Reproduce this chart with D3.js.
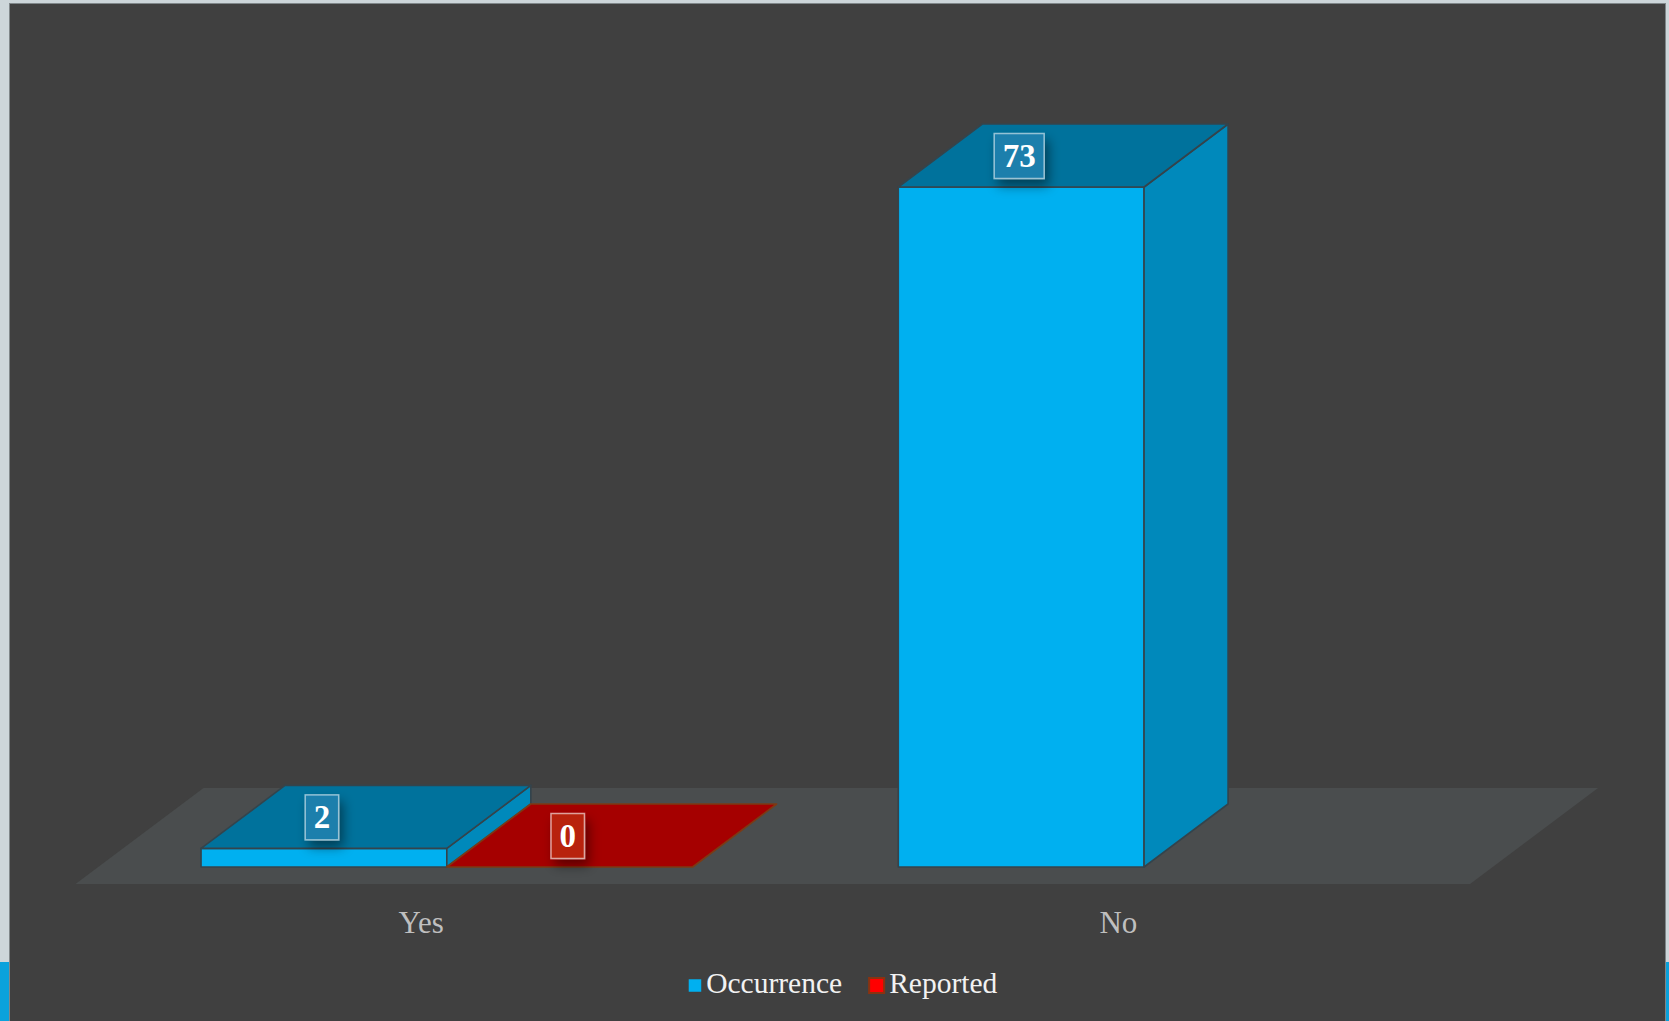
<!DOCTYPE html>
<html>
<head>
<meta charset="utf-8">
<script src="https://cdn.jsdelivr.net/npm/d3@7"></script>
<style>
  html, body { margin: 0; padding: 0; background: #cdd6da; }
  svg { display: block; }
</style>
</head>
<body>
<svg id="chart" width="1669" height="1021"></svg>
<script>
// ---- data ----
const categories = ["Yes", "No"];
const seriesNames = ["Occurrence", "Reported"];
const occurrence = [2, 73];
const reported = [0, null];

// ---- styling per series ----
const seriesStyle = {
  Occurrence: { front: "#00b0f0", top: "#00729c", side: "#0089bb", stroke: "#34444c",
                legend: "#00b0f0", legendStroke: "#00b0f0",
                labelFill: "#1e7fac", labelStroke: "rgba(255,255,255,0.55)" },
  Reported:   { front: "#ff0000", top: "#a50000", side: "#c00000", stroke: "#7d3a14",
                legend: "#ff0000", legendStroke: "#8a3210",
                labelFill: "#b8240f", labelStroke: "rgba(255,255,255,0.6)" }
};

const valuesBySeries = { Occurrence: occurrence, Reported: reported };

const W = 1669, H = 1021;
const svg = d3.select("#chart");

// page background + chart panel
svg.append("rect").attr("x", 0).attr("y", 0).attr("width", W).attr("height", H).attr("fill", "#cdd6da");
svg.append("rect").attr("x", 0).attr("y", 962).attr("width", 9).attr("height", H - 962).attr("fill", "#0aa2dc");
svg.append("rect").attr("x", 1666).attr("y", 962).attr("width", 3).attr("height", H - 962).attr("fill", "#0aa2dc");
svg.append("rect")
  .attr("x", 9.5).attr("y", 3.5).attr("width", 1656).attr("height", H + 10)
  .attr("fill", "#404040").attr("stroke", "#80878a").attr("stroke-width", 1);

// drop shadow for the value labels
const defs = svg.append("defs");
const f = defs.append("filter").attr("id", "lblShadow")
  .attr("x", "-80%").attr("y", "-80%").attr("width", "260%").attr("height", "260%");
f.append("feDropShadow").attr("dx", 4).attr("dy", 7).attr("stdDeviation", 6)
  .attr("flood-color", "#000").attr("flood-opacity", 0.45);

// ---- scales ----
const x0 = d3.scaleBand().domain(categories).range([98.2, 1492.7])
  .paddingInner(0.295).paddingOuter(0.1475);
const x1 = d3.scaleBand().domain(seriesNames).range([0, x0.bandwidth()]);
const y = d3.scaleLinear().domain([0, 80]).range([867, 121.8]);

// oblique depth projection: one unit of depth = one bar depth
const DX = 84, DY = 63;
const proj = (px, v, z) => [px + z * DX, y(v) - z * DY];
const poly = pts => pts.map(p => p.join(",")).join(" ");

const g = svg.append("g");

// floor
const zFront = -17 / DY, zBack = (867 - 788) / DY;
const fx0 = x0.range()[0], fx1 = x0.range()[1];
g.append("polygon")
  .attr("points", poly([proj(fx0, 0, zFront), proj(fx1, 0, zFront), proj(fx1, 0, zBack), proj(fx0, 0, zBack)]))
  .attr("fill", "#4a4d4e");

// bars, drawn left to right so nearer faces overlap correctly
const bars = [];
categories.forEach((c, i) => {
  seriesNames.forEach(s => {
    const v = valuesBySeries[s][i];
    if (v === null || v === undefined) return;
    bars.push({ cat: c, series: s, value: v });
  });
});

bars.forEach(b => {
  const st = seriesStyle[b.series];
  const a = x0(b.cat) + x1(b.series);
  const bw = x1.bandwidth();
  const e = a + bw;
  const v = b.value;
  const bg = g.append("g");
  if (v > 0) {
    bg.append("polygon")
      .attr("points", poly([proj(a, 0, 0), proj(e, 0, 0), proj(e, v, 0), proj(a, v, 0)]))
      .attr("fill", st.front).attr("stroke", st.stroke).attr("stroke-width", 1.6).attr("stroke-linejoin", "round");
    bg.append("polygon")
      .attr("points", poly([proj(e, 0, 0), proj(e, 0, 1), proj(e, v, 1), proj(e, v, 0)]))
      .attr("fill", st.side).attr("stroke", st.stroke).attr("stroke-width", 1.6).attr("stroke-linejoin", "round");
  }
  bg.append("polygon")
    .attr("points", poly([proj(a, v, 0), proj(e, v, 0), proj(e, v, 1), proj(a, v, 1)]))
    .attr("fill", st.top).attr("stroke", st.stroke).attr("stroke-width", 1.6).attr("stroke-linejoin", "round");
});

// value labels
bars.forEach(b => {
  const st = seriesStyle[b.series];
  const cx = x0(b.cat) + x1(b.series) + x1.bandwidth() / 2 - 2;
  const cy = y(b.value) - 31;
  const lg = g.append("g");
  const box = lg.append("rect").attr("filter", "url(#lblShadow)");
  const t = lg.append("text")
    .attr("x", cx).attr("y", cy + 11)
    .attr("text-anchor", "middle")
    .attr("font-family", "'Liberation Serif', 'DejaVu Serif', serif")
    .attr("font-weight", "bold").attr("font-size", 33)
    .attr("fill", "#ffffff")
    .text(b.value);
  const tw = t.node().getComputedTextLength();
  const bwid = tw + 17, bh = 45;
  box.attr("x", cx - bwid / 2).attr("y", cy - bh / 2).attr("width", bwid).attr("height", bh)
    .attr("fill", st.labelFill).attr("stroke", st.labelStroke).attr("stroke-width", 1.5);
});

// category labels, placed on the front edge of the floor
categories.forEach(c => {
  const [lx] = proj(x0(c) + x0.bandwidth() / 2, 0, zFront);
  svg.append("text")
    .attr("x", lx - 3).attr("y", 933)
    .attr("text-anchor", "middle")
    .attr("font-family", "'Liberation Serif', serif")
    .attr("font-size", 31)
    .attr("fill", "#bfbfbf")
    .text(c);
});

// legend
const legend = svg.append("g");
let lx = 0;
seriesNames.forEach(s => {
  const st = seriesStyle[s];
  const it = legend.append("g");
  const size = s === "Reported" ? 15 : 12.5;
  it.append("rect").attr("x", lx).attr("y", 985.5 - size / 2).attr("width", size).attr("height", size)
    .attr("fill", st.legend).attr("stroke", st.legendStroke).attr("stroke-width", s === "Reported" ? 2 : 0);
  const t = it.append("text").attr("x", lx + size + 5).attr("y", 993)
    .attr("font-family", "'Liberation Serif', serif").attr("font-size", 29.5)
    .attr("fill", "#f2f2f2").text(s);
  lx += size + 5 + t.node().getComputedTextLength() + 27;
});
const totalW = lx - 27;
legend.attr("transform", `translate(${843 - totalW / 2},0)`);
</script>
</body>
</html>
